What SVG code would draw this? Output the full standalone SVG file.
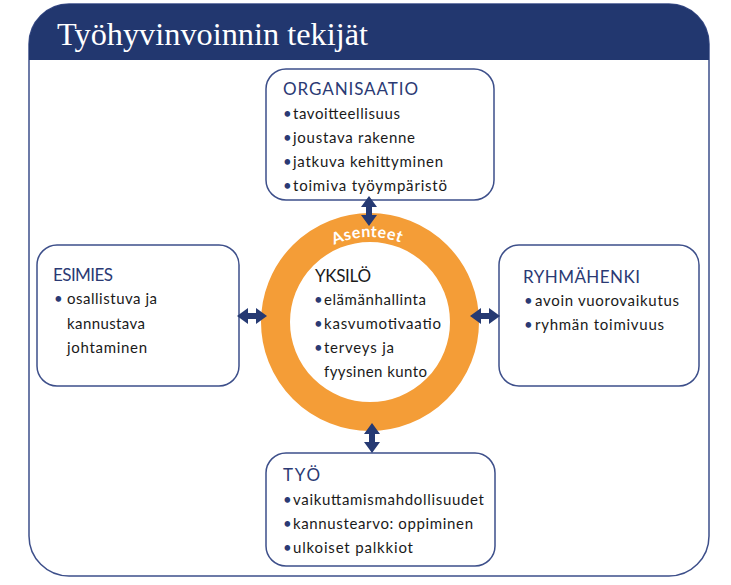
<svg xmlns="http://www.w3.org/2000/svg" width="731" height="585" viewBox="0 0 731 585">
<defs>
<style>
.box{fill:#fff;stroke:#3d4f8a;stroke-width:1.5}
.hd{font-family:Lato,"Noto Sans",sans-serif;font-size:17px;fill:#2b3a74}
.tx{font-family:Lato,"Noto Sans",sans-serif;font-size:15px;fill:#1a1a1a}
.bl{font-family:Lato,"Noto Sans",sans-serif;font-size:15px;fill:#2b3a74}
.arr{fill:#263a73}
</style>
<polygon id="dv" points="0,-15 8,-4 3,-4 3,4 8,4 0,15 -8,4 -3,4 -3,-4 -8,-4"/>
<polygon id="dh" points="-15,0 -4,-8 -4,-3 4,-3 4,-8 15,0 4,8 4,3 -4,3 -4,8"/>
<path id="arc" d="M 285 322 A 85 85 0 0 1 455 322"/>
</defs>
<rect width="731" height="585" fill="#fff"/>
<g id="frame">
<rect x="29" y="4" width="680" height="572" rx="40" ry="40" fill="#fff" stroke="#3d4f8a" stroke-width="1.5"/>
<path d="M29 60 V44 A40 40 0 0 1 69 4 H669 A40 40 0 0 1 709 44 V60 Z" fill="#22376f"/>
<text x="57" y="45" font-family="Liberation Serif,serif" font-size="32" fill="#fff" textLength="311" lengthAdjust="spacingAndGlyphs">Työhyvinvoinnin tekijät</text>
</g>
<g id="yksilo">
<circle cx="370" cy="322" r="94.5" fill="#fff" stroke="#f49d37" stroke-width="29"/>
<text font-family="Lato,'Noto Sans',sans-serif" font-size="16" font-weight="bold" fill="#fff" letter-spacing="0.5"><textPath href="#arc" startOffset="49%" text-anchor="middle">Asenteet</textPath></text>
<text class="hd" x="315" y="282" style="fill:#1a1a1a" textLength="56">YKSILÖ</text>
<text class="bl" x="314" y="305">•</text><text class="tx" x="324" y="305" textLength="102">elämänhallinta</text>
<text class="bl" x="314" y="329">•</text><text class="tx" x="324" y="329" textLength="117">kasvumotivaatio</text>
<text class="bl" x="314" y="353">•</text><text class="tx" x="324" y="353" textLength="70">terveys ja</text>
<text class="tx" x="324" y="377" textLength="103">fyysinen kunto</text>
</g>
<g id="organisaatio">
<rect class="box" x="266" y="69" width="228" height="131" rx="20"/>
<text class="hd" x="283" y="95" textLength="135">ORGANISAATIO</text>
<text class="bl" x="283" y="119">•</text><text class="tx" x="293" y="119" textLength="107">tavoitteellisuus</text>
<text class="bl" x="283" y="143">•</text><text class="tx" x="293" y="143" textLength="122">joustava rakenne</text>
<text class="bl" x="283" y="167">•</text><text class="tx" x="293" y="167" textLength="150">jatkuva kehittyminen</text>
<text class="bl" x="283" y="191">•</text><text class="tx" x="293" y="191" textLength="154">toimiva työympäristö</text>
</g>
<g id="esimies">
<rect class="box" x="37" y="245" width="202" height="141" rx="20"/>
<text class="hd" x="53" y="281" textLength="60">ESIMIES</text>
<text class="bl" x="54" y="304">•</text><text class="tx" x="67" y="304" textLength="90">osallistuva ja</text>
<text class="tx" x="67" y="329" textLength="78">kannustava</text>
<text class="tx" x="67" y="353" textLength="80">johtaminen</text>
</g>
<g id="ryhmahenki">
<rect class="box" x="499" y="245" width="200" height="141" rx="20"/>
<text class="hd" x="523" y="283" textLength="117">RYHMÄHENKI</text>
<text class="bl" x="524" y="306">•</text><text class="tx" x="535" y="306" textLength="144">avoin vuorovaikutus</text>
<text class="bl" x="524" y="330">•</text><text class="tx" x="535" y="330" textLength="129">ryhmän toimivuus</text>
</g>
<g id="tyo">
<rect class="box" x="266" y="453" width="229" height="113" rx="20"/>
<text class="hd" x="283" y="481" textLength="37">TYÖ</text>
<text class="bl" x="283" y="505">•</text><text class="tx" x="293" y="505" textLength="191">vaikuttamismahdollisuudet</text>
<text class="bl" x="283" y="529">•</text><text class="tx" x="293" y="529" textLength="180">kannustearvo: oppiminen</text>
<text class="bl" x="283" y="553">•</text><text class="tx" x="293" y="553" textLength="120">ulkoiset palkkiot</text>
</g>
<g id="connectors">
<use href="#dv" class="arr" x="369" y="211"/>
<use href="#dv" class="arr" x="372" y="438"/>
<use href="#dh" class="arr" x="252" y="316"/>
<use href="#dh" class="arr" x="485" y="316"/>
</g>
</svg>
